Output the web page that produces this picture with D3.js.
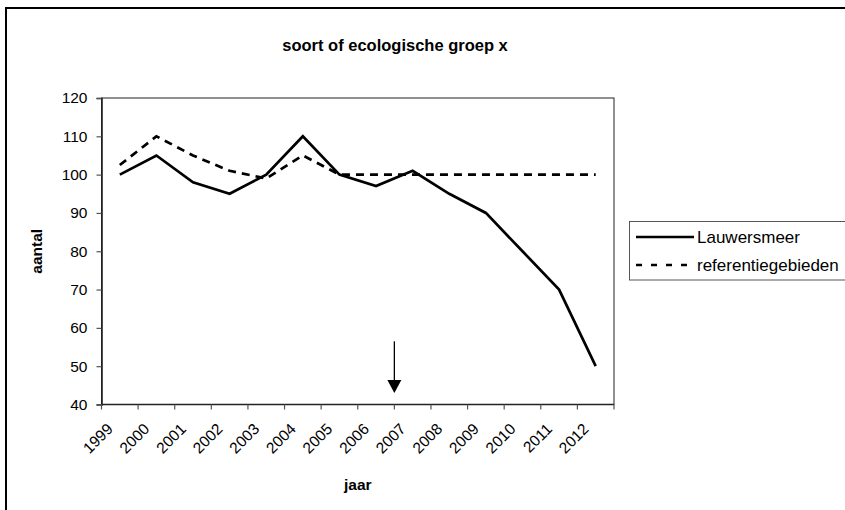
<!DOCTYPE html>
<html>
<head>
<meta charset="utf-8">
<script src="https://cdn.jsdelivr.net/npm/d3@7"></script>
<style>
  html, body { margin: 0; padding: 0; background: #fff; }
  svg { display: block; font-family: "Liberation Sans", Arial, sans-serif; }
</style>
</head>
<body>
<svg id="chart" width="845" height="510"></svg>
<script>
// ---- data ----
const years = ["1999","2000","2001","2002","2003","2004","2005","2006","2007","2008","2009","2010","2011","2012"];
const lauwersmeer = [100, 105, 98, 95, 100, 110, 100, 97, 101, 95, 90, 80, 70, 50];
const referentie = [102.5, 110, 105, 101, 99, 105, 100, 100, 100, 100, 100, 100, 100, 100];
const yTicks = [40, 50, 60, 70, 80, 90, 100, 110, 120];
const seriesNames = ["Lauwersmeer", "referentiegebieden"];
const titleText = "soort of ecologische groep x";
const xTitle = "jaar";
const yTitle = "aantal";
const arrowYear = "2007";
const arrowFrom = 56.5;
const arrowTo = 43;

// ---- layout ----
const svg = d3.select("#chart");
const L = 101.5, R = 614, T = 98, B = 404.5;

const x = d3.scaleBand().domain(years).range([L, R]);
const y = d3.scaleLinear().domain([40, 120]).range([B, T]);

// outer frame
svg.append("rect").attr("x", 6).attr("y", 8).attr("width", 1000).attr("height", 1000)
  .attr("fill", "none").attr("stroke", "#000").attr("stroke-width", 2);

// title
svg.append("text").attr("x", 395).attr("y", 51).attr("text-anchor", "middle")
  .attr("font-size", 16.5).attr("font-weight", "bold").text(titleText);

// plot area border
svg.append("rect").attr("x", L).attr("y", T).attr("width", R - L).attr("height", B - T)
  .attr("fill", "none").attr("stroke", "#222").attr("stroke-width", 1);

// y axis
const yAxis = d3.axisLeft(y).tickValues(yTicks).tickSize(5).tickPadding(9);
const gy = svg.append("g").attr("transform", `translate(${L},0)`).call(yAxis);
gy.select(".domain").attr("stroke", "#222").attr("stroke-width", 1.6);
gy.selectAll(".tick line").attr("stroke", "#555").attr("stroke-width", 1.2);
gy.selectAll(".tick text").attr("font-size", 15.5).attr("fill", "#000")
  .attr("font-family", "Liberation Sans, Arial, sans-serif");

// x axis (ticks between categories)
const gx = svg.append("g");
gx.append("line").attr("x1", L).attr("x2", R).attr("y1", B).attr("y2", B)
  .attr("stroke", "#222").attr("stroke-width", 1.6);
const bounds = years.map(d => x(d)).concat([x(years[years.length - 1]) + x.bandwidth()]);
gx.selectAll("line.tk").data(bounds).join("line").attr("class", "tk")
  .attr("x1", d => d).attr("x2", d => d).attr("y1", B).attr("y2", B + 5)
  .attr("stroke", "#555").attr("stroke-width", 1.2);
gx.selectAll("text.lbl").data(years).join("text").attr("class", "lbl")
  .attr("transform", d => `translate(${x(d) + x.bandwidth() / 2 - 6},${B + 25.5}) rotate(-45)`)
  .attr("text-anchor", "end").attr("font-size", 15.5).text(d => d);

// axis titles
svg.append("text").attr("x", (L + R) / 2).attr("y", 490).attr("text-anchor", "middle")
  .attr("font-size", 15.5).attr("font-weight", "bold").text(xTitle);
svg.append("text").attr("transform", `translate(42,${(T + B) / 2}) rotate(-90)`)
  .attr("text-anchor", "middle").attr("font-size", 15.5).attr("font-weight", "bold").text(yTitle);

// lines
const line = d3.line().x((d, i) => x(years[i]) + x.bandwidth() / 2).y(d => y(d));
svg.append("path").datum(referentie).attr("d", line).attr("fill", "none")
  .attr("stroke", "#000").attr("stroke-width", 2.7).attr("stroke-dasharray", "8,6");
svg.append("path").datum(lauwersmeer).attr("d", line).attr("fill", "none")
  .attr("stroke", "#000").attr("stroke-width", 2.7).attr("stroke-linejoin", "miter");

// arrow
const ax = x(arrowYear);
svg.append("line").attr("x1", ax).attr("x2", ax).attr("y1", y(arrowFrom)).attr("y2", y(arrowTo) - 10)
  .attr("stroke", "#000").attr("stroke-width", 1.3);
svg.append("path")
  .attr("d", `M${ax - 7},${y(arrowTo) - 13} L${ax + 7},${y(arrowTo) - 13} L${ax},${y(arrowTo)} Z`)
  .attr("fill", "#000");

// legend
const lg = svg.append("g");
lg.append("rect").attr("x", 629.5).attr("y", 221.5).attr("width", 300).attr("height", 58.5)
  .attr("fill", "#fff").attr("stroke", "#555").attr("stroke-width", 1);
const rows = [237, 265];
seriesNames.forEach((name, i) => {
  lg.append("line").attr("x1", 636).attr("x2", 694).attr("y1", rows[i]).attr("y2", rows[i])
    .attr("stroke", "#000").attr("stroke-width", 2.7)
    .attr("stroke-dasharray", i === 1 ? "6,9" : null);
  lg.append("text").attr("x", 697).attr("y", rows[i]).attr("dominant-baseline", "central")
    .attr("font-size", 17).text(name);
});
</script>
</body>
</html>
